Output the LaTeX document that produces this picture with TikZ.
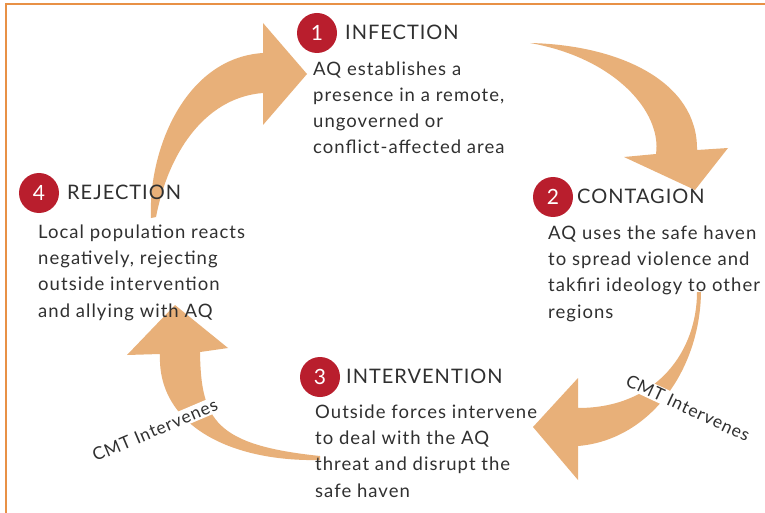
\documentclass[tikz,border=0pt]{standalone}
\usepackage{fontspec}
\setmainfont{Lato}
\newfontfamily\bodyfont[LetterSpace=5.6]{Lato}
\newfontfamily\headfont[LetterSpace=5]{Lato}
\newfontfamily\cmtfont[LetterSpace=5]{Lato}
\definecolor{arrowtan}{RGB}{232,176,121}
\definecolor{badgered}{RGB}{185,30,45}
\definecolor{frameorange}{RGB}{232,145,70}
\definecolor{txtgray}{RGB}{48,48,48}
\begin{document}
\begin{tikzpicture}[x=1pt,y=-1pt,
  badge/.style={circle, fill=badgered, minimum size=40pt, inner sep=0pt, text=white, font=\fontsize{21}{21}\selectfont},
  heading/.style={anchor=base west, inner sep=0pt, text=txtgray, font=\headfont\fontsize{20}{20}\selectfont},
  body/.style={anchor=base west, inner sep=0pt, align=left, text=txtgray, font=\bodyfont\fontsize{18.5}{26.3}\selectfont},
  cmt/.style={inner sep=1.5pt, fill=white, text=txtgray, font=\cmtfont\fontsize{17.5}{17.5}\selectfont},
  flow/.style={fill=arrowtan, draw=none}]
\useasboundingbox (0,0) rectangle (765,513);
\fill[white] (0,0) rectangle (765,513);
\draw[frameorange, line width=1.5pt] (6,513) -- (6,4) -- (765,4);
% arrow 4 -> 1
\coordinate (aT) at (151,218);
\coordinate (aT2) at (156,217);
\coordinate (aB1) at (263,53);
\coordinate (aH1) at (263,23);
\coordinate (aTip) at (307,74);
\coordinate (aH2) at (263,125);
\coordinate (aB2) at (263,93);
\fill[flow] (aT) .. controls (148,150) and (185,58) .. (aB1) -- (aH1) -- (aTip) -- (aH2) -- (aB2) .. controls (210,97) and (170,145) .. (aT2) -- cycle;
% arrow 1 -> 2
\coordinate (bT) at (530,43);
\coordinate (bB1) at (697,150);
\coordinate (bH1) at (728,148);
\coordinate (bTip) at (695,190);
\coordinate (bH2) at (624,157);
\coordinate (bB2) at (656,154);
\fill[flow] (bT) .. controls (620,45) and (698,82) .. (bB1) -- (bH1) -- (bTip) -- (bH2) -- (bB2) .. controls (662,112) and (615,58) .. (bT) -- cycle;
% arrow 2 -> 3
\coordinate (cT) at (701,292);
\coordinate (cT2) at (697,292);
\coordinate (cB1) at (578,446);
\coordinate (cH1) at (578,480);
\coordinate (cTip) at (533,427);
\coordinate (cH2) at (578,378);
\coordinate (cB2) at (578,408);
\fill[flow] (cT) .. controls (700,370) and (650,440) .. (cB1) -- (cH1) -- (cTip) -- (cH2) -- (cB2) .. controls (658,408) and (697,350) .. (cT2) -- cycle;
% arrow 3 -> 4
\coordinate (dT) at (320,460);
\coordinate (dT2) at (320,456);
\coordinate (dB1) at (160,354);
\coordinate (dH1) at (127,355);
\coordinate (dTip) at (175,305);
\coordinate (dH2) at (228,348);
\coordinate (dB2) at (200,352);
\fill[flow] (dT) .. controls (230,462) and (157,425) .. (dB1) -- (dH1) -- (dTip) -- (dH2) -- (dB2) .. controls (201,420) and (215,445) .. (dT2) -- cycle;
% labels on arrows
\node[cmt, rotate=23] (cmtA) at (155,430) {CMT Intervenes};
\node[cmt, rotate=-25] (cmtB) at (688,408) {CMT Intervenes};
% badges
\node[badge] (b1) at (317,33) {1};
\node[badge] (b2) at (553,197) {2};
\node[badge] (b3) at (320,377) {3};
\node[badge] (b4) at (39,193) {4};
% headings
\node[heading] (h1) at (345,39.5) {INFECTION};
\node[heading] (h2) at (577,203.5) {CONTAGION};
\node[heading] (h3) at (346,383.5) {INTERVENTION};
\node[heading] (h4) at (67,199.5) {REJECTION};
% bodies (anchored at the baseline of the last line)
\node[body] (t1) at (313,154) {AQ establishes a\\presence in a remote,\\ungoverned or\\conflict-affected area};
\node[body] (t2) at (548,318) {AQ uses the safe haven\\to spread violence and\\takfiri ideology to other\\regions};
\node[body] (t3) at (315,497) {Outside forces intervene\\to deal with the AQ\\threat and disrupt the\\safe haven};
\node[body] (t4) at (38,317) {Local population reacts\\negatively, rejecting\\outside intervention\\and allying with AQ};
\end{tikzpicture}
\end{document}
